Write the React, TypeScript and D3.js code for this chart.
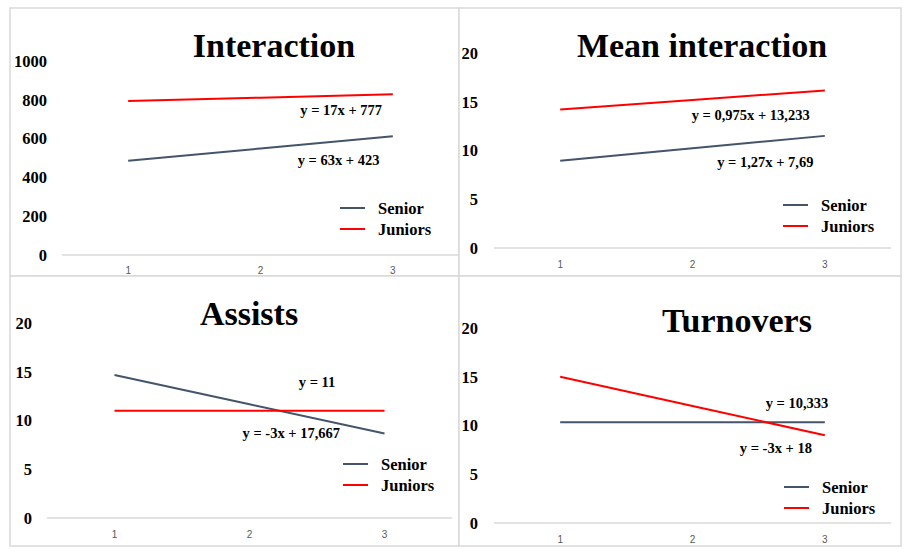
import React from "react";
import * as d3 from "d3";

// ---- data ----
const categories = [1, 2, 3];
const seriesNames = ["Senior", "Juniors"];

const interactionSenior = [486, 549, 612];
const interactionJuniors = [794, 811, 828];
const interactionTicks = [0, 200, 400, 600, 800, 1000];

const meanSenior = [8.96, 10.23, 11.5];
const meanJuniors = [14.21, 15.18, 16.16];

const assistsSenior = [14.667, 11.667, 8.667];
const assistsJuniors = [11, 11, 11];

const turnoversSenior = [10.333, 10.333, 10.333];
const turnoversJuniors = [15, 12, 9];

const smallTicks = [0, 5, 10, 15, 20];

const titles = ["Interaction", "Mean interaction", "Assists", "Turnovers"];
const seniorEquations = ["y = 63x + 423", "y = 1,27x + 7,69", "y = -3x + 17,667", "y = 10,333"];
const juniorEquations = ["y = 17x + 777", "y = 0,975x + 13,233", "y = 11", "y = -3x + 18"];
// equation label anchor positions in data units [x, y]
const seniorLabelAt = [[2.59, 490], [2.55, 8.82], [2.31, 8.72], [2.79, 12.31]];
const juniorLabelAt = [[2.61, 747], [2.44, 13.64], [2.5, 13.95], [2.63, 7.69]];

const colors = ["#44546A", "#FF0000"];
const SERIF = "'Liberation Serif', 'Times New Roman', serif";
const SANS = "'Liberation Sans', Arial, sans-serif";

type Layout = {
  frame: [number, number, number, number];
  band: [number, number];
  yRange: [number, number];
  tickRight: number;
  titleX: number;
  titleY: number;
  legendX: number;
  legendY: number;
  xTickY: number;
};

const layouts: Layout[] = [
  { frame: [10, 8, 459, 276], band: [62, 459], yRange: [255, 61], tickRight: 47, titleX: 274, titleY: 57, legendX: 340, legendY: 208, xTickY: 270 },
  { frame: [459, 8, 901, 276], band: [494, 891], yRange: [248, 53], tickRight: 478, titleX: 702, titleY: 57, legendX: 783, legendY: 205, xTickY: 264 },
  { frame: [10, 276, 459, 546], band: [47, 452], yRange: [518, 323], tickRight: 32, titleX: 249, titleY: 325, legendX: 343, legendY: 464, xTickY: 534 },
  { frame: [459, 276, 901, 546], band: [494, 891], yRange: [523, 328], tickRight: 478, titleX: 737, titleY: 332, legendX: 784, legendY: 487, xTickY: 539 },
];

type PanelProps = {
  idx: number;
  senior: number[];
  juniors: number[];
  ticks: number[];
  yMax: number;
};

function Panel({ idx, senior, juniors, ticks, yMax }: PanelProps) {
  const L = layouts[idx];
  const band = d3.scaleBand<number>().domain(categories).range(L.band);
  const xc = (c: number) => (band(c) as number) + band.bandwidth() / 2;
  const xLin = d3.scaleLinear().domain([1, 3]).range([xc(1), xc(3)]);
  const y = d3.scaleLinear().domain([0, yMax]).range(L.yRange);
  const line = d3
    .line<number>()
    .x((_, i) => xc(categories[i]))
    .y((d) => y(d));
  const [fx0, fy0, fx1, fy1] = L.frame;
  const series = [senior, juniors];
  const eqs = [seniorEquations[idx], juniorEquations[idx]];
  const eqAt = [seniorLabelAt[idx], juniorLabelAt[idx]];
  return (
    <g>
      <rect x={fx0} y={fy0} width={fx1 - fx0} height={fy1 - fy0} fill="#fff" stroke="#D9D9D9" strokeWidth={1.5} />
      <text x={L.titleX} y={L.titleY} textAnchor="middle" fontFamily={SERIF} fontWeight="bold" fontSize={34} fill="#000">
        {titles[idx]}
      </text>
      {ticks.map((t) => (
        <text key={t} x={L.tickRight} y={y(t)} dy="0.35em" textAnchor="end" fontFamily={SERIF} fontWeight="bold" fontSize={16.5} fill="#000">
          {t}
        </text>
      ))}
      <line x1={L.band[0]} x2={L.band[1]} y1={y(0)} y2={y(0)} stroke="#D9D9D9" strokeWidth={1.5} />
      {categories.map((c) => (
        <text key={c} x={xc(c)} y={L.xTickY} dy="0.35em" textAnchor="middle" fontFamily={SANS} fontSize={10} fill="#595959">
          {c}
        </text>
      ))}
      {series.map((s, i) => (
        <path key={i} d={line(s) || ""} fill="none" stroke={colors[i]} strokeWidth={2} />
      ))}
      {eqs.map((e, i) => (
        <text key={i} x={xLin(eqAt[i][0])} y={y(eqAt[i][1])} dy="0.35em" textAnchor="middle" fontFamily={SERIF} fontWeight="bold" fontSize={14.5} fill="#000">
          {e}
        </text>
      ))}
      {seriesNames.map((n, i) => (
        <g key={n} transform={`translate(${L.legendX},${L.legendY + i * 21})`}>
          <line x1={0} x2={25} y1={0} y2={0} stroke={colors[i]} strokeWidth={2} />
          <text x={38} y={0} dy="0.35em" fontFamily={SERIF} fontWeight="bold" fontSize={16.5} fill="#000">
            {n}
          </text>
        </g>
      ))}
    </g>
  );
}

export default function App() {
  return (
    <svg width={909} height={557} style={{ position: "absolute", left: 0, top: 0, background: "#fff" }}>
      <rect x={0} y={0} width={909} height={557} fill="#fff" />
      <Panel idx={0} senior={interactionSenior} juniors={interactionJuniors} ticks={interactionTicks} yMax={1000} />
      <Panel idx={1} senior={meanSenior} juniors={meanJuniors} ticks={smallTicks} yMax={20} />
      <Panel idx={2} senior={assistsSenior} juniors={assistsJuniors} ticks={smallTicks} yMax={20} />
      <Panel idx={3} senior={turnoversSenior} juniors={turnoversJuniors} ticks={smallTicks} yMax={20} />
    </svg>
  );
}
